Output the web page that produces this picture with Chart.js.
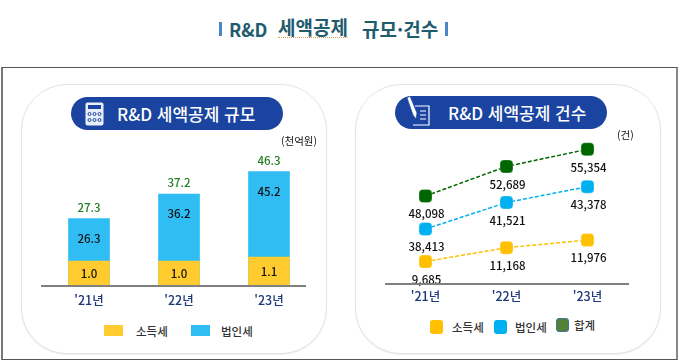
<!DOCTYPE html>
<html lang="ko">
<head>
<meta charset="utf-8">
<script src="https://cdn.jsdelivr.net/npm/chart.js@4"></script>
<style>
  html, body { margin: 0; padding: 0; background: #fff; }
  body { position: relative; width: 680px; height: 362px; overflow: hidden; font-family: "Noto Sans CJK KR", "Noto Sans", sans-serif; }
  .abs { position: absolute; white-space: nowrap; }
  .frame { left: 1px; top: 67px; width: 677px; height: 293px; box-sizing: border-box; border: 1px solid #555; border-left: 2px solid #777; border-right: 2px solid #888; }
  .card { top: 84px; width: 306px; height: 270px; box-sizing: border-box; border: 1px solid #e4e4e4; border-radius: 46px; background: #fff; box-shadow: 0 1px 1px #eee; }
  .pill { height: 33px; width: 212px; border-radius: 17px; background: #1a44a0; }
  .pill-text { color: #fff; font-size: 17px; line-height: 33px; font-weight: 500; }
  .title { font-size: 19px; font-weight: 700; color: #1f5c6e; line-height: 24px; top: 17px; }
  .tick { width: 3px; height: 14px; top: 22px; background: #4a86c8; }
  .axis { height: 2px; background: #808080; }
  .sw { border-radius: 0; }
  .leg { font-size: 11.5px; color: #333; line-height: 16px; font-weight: 500; }
  .unit { font-size: 10.5px; color: #111; line-height: 14px; }
  canvas { position: absolute; }
</style>
</head>
<body>
<div class="abs tick" style="left:219px"></div>
<div class="abs title" style="left:229px;font-size:18px">R&amp;D</div>
<div class="abs title" style="left:278px;border-bottom:1px dotted #e8a15a;line-height:20px;top:17px">세액공제</div>
<div class="abs title" style="left:362px">규모·건수</div>
<div class="abs tick" style="left:445px"></div>

<div class="abs frame"></div>
<div class="abs card" style="left:21px"></div>
<div class="abs card" style="left:355px"></div>

<div class="abs pill" style="left:71px;top:97px"></div>
<svg class="abs" style="left:85px;top:102px" width="19" height="24" viewBox="0 0 19 24">
  <rect x="0.5" y="0.5" width="18" height="23" rx="2" fill="#e8eef8"/>
  <rect x="3" y="3" width="13" height="4" fill="#1a44a0"/>
  <g fill="none" stroke="#1a44a0" stroke-width="1">
    <circle cx="4.5" cy="12" r="1.5"/><circle cx="9.5" cy="12" r="1.5"/><circle cx="14.5" cy="12" r="1.5"/>
    <circle cx="4.5" cy="18" r="1.5"/><circle cx="9.5" cy="18" r="1.5"/><circle cx="14.5" cy="18" r="1.5"/>
  </g>
</svg>
<div class="abs pill-text" style="left:117px;top:97px">R&amp;D 세액공제 규모</div>

<div class="abs pill" style="left:395px;top:96px"></div>
<svg class="abs" style="left:406px;top:96px" width="26" height="31" viewBox="0 0 26 31">
  <path d="M9 10 H23 V29 H7" fill="none" stroke="#fff" stroke-width="1.2"/>
  <path d="M14 15 H20 M14 19 H20 M14 23 H20" stroke="#fff" stroke-width="1.2"/>
  <path d="M1 2 L4 0 L11 17 L10 23 L7 19 Z" fill="#fff" stroke="#1a44a0" stroke-width="0.7"/>
</svg>
<div class="abs pill-text" style="left:448px;top:96px">R&amp;D 세액공제 건수</div>

<canvas id="amount-chart" width="306" height="190" style="left:21px;top:120px"></canvas>
<canvas id="count-chart" width="306" height="188" style="left:355px;top:120px"></canvas>

<div class="abs unit" style="left:281px;top:134px">(천억원)</div>
<div class="abs unit" style="left:617px;top:128px">(건)</div>

<div class="abs axis" style="left:41px;top:285px;width:265px"></div>
<div class="abs axis" style="left:385px;top:283px;width:244px"></div>

<div class="abs sw" style="left:104px;top:325px;width:19px;height:11px;background:#ffcb2f"></div>
<div class="abs leg" style="left:136px;top:323px">소득세</div>
<div class="abs sw" style="left:191px;top:325px;width:19px;height:11px;background:#2fbdf3"></div>
<div class="abs leg" style="left:221px;top:323px">법인세</div>

<div class="abs sw" style="left:430px;top:320px;width:13px;height:14px;border-radius:3px;background:#ffc000"></div>
<div class="abs leg" style="left:452px;top:319px">소득세</div>
<div class="abs sw" style="left:494px;top:320px;width:13px;height:14px;border-radius:3px;background:#00b0f0"></div>
<div class="abs leg" style="left:515px;top:319px">법인세</div>
<div class="abs sw" style="left:556px;top:318px;width:11px;height:12px;border-radius:3px;background:#548235;border:1px solid #41719c"></div>
<div class="abs leg" style="left:574px;top:317px">합계</div>

<script>
const categories = ["'21년", "'22년", "'23년"];

// 세액공제 규모 (천억원)
const incomeAmount = [1.0, 1.0, 1.1];
const corporateAmount = [26.3, 36.2, 45.2];
const totalAmount = [27.3, 37.2, 46.3];

// 세액공제 건수 (건)
const incomeCount = [9685, 11168, 11976];
const corporateCount = [38413, 41521, 43378];
const totalCount = [48098, 52689, 55354];

const FONT = '"Noto Sans CJK KR", "Noto Sans", sans-serif';
const TICK_COLOR = '#1f3a7a';

function fixedAxisHeight(scale) { scale.height = 24; }

// 막대 위 수치
const barLabels = {
  id: 'barLabels',
  afterDatasetsDraw(chart) {
    const ctx = chart.ctx;
    const blue = chart.getDatasetMeta(0).data;
    const yellow = chart.getDatasetMeta(1).data;
    const bottom = chart.chartArea.bottom;
    ctx.save();
    ctx.font = '500 11.5px ' + FONT;
    ctx.textAlign = 'center';
    ctx.textBaseline = 'middle';
    categories.forEach((c, i) => {
      ctx.fillStyle = '#1e7d1e';
      ctx.fillText(totalAmount[i].toFixed(1), blue[i].x, blue[i].y - 11);
      ctx.fillStyle = '#111';
      ctx.fillText(corporateAmount[i].toFixed(1), blue[i].x, blue[i].y + 20);
      ctx.fillText(incomeAmount[i].toFixed(1), yellow[i].x, (yellow[i].y + bottom) / 2);
    });
    ctx.restore();
  }
};

// 마커 아래 수치
const pointLabels = {
  id: 'pointLabels',
  afterDatasetsDraw(chart) {
    const ctx = chart.ctx;
    ctx.save();
    ctx.font = '500 11.5px ' + FONT;
    ctx.fillStyle = '#111';
    ctx.textAlign = 'center';
    ctx.textBaseline = 'middle';
    chart.data.datasets.forEach((ds, d) => {
      chart.getDatasetMeta(d).data.forEach((pt, i) => {
        ctx.fillText(ds.data[i].toLocaleString('en-US'), pt.x + 1, pt.y + 18);
      });
    });
    ctx.restore();
  }
};

const hiddenAxis = (min, max) => ({ display: false, min, max, grid: { display: false } });
const xAxis = (padding) => ({
  offset: true,
  grid: { display: false },
  border: { display: false },
  afterFit: fixedAxisHeight,
  ticks: { color: TICK_COLOR, font: { family: FONT, size: 12.5, weight: '500' }, padding, maxRotation: 0 }
});

new Chart(document.getElementById('amount-chart'), {
  type: 'bar',
  data: {
    labels: categories,
    datasets: [
      // 법인세 막대는 합계 높이까지 그리고 소득세 막대가 아래를 덮음
      { label: '법인세', data: totalAmount, backgroundColor: '#2fbdf3', yAxisID: 'yTotal', grouped: false, order: 2, barThickness: 41 },
      { label: '소득세', data: incomeAmount, backgroundColor: '#ffcb2f', yAxisID: 'yIncome', grouped: false, order: 1, barThickness: 41 }
    ]
  },
  options: {
    responsive: false,
    animation: false,
    events: [],
    layout: { padding: { left: 23, right: 13, top: 0, bottom: 0 } },
    plugins: { legend: { display: false }, tooltip: { enabled: false } },
    scales: {
      x: xAxis(-1),
      yTotal: hiddenAxis(0, 67.2),
      yIncome: hiddenAxis(0.375, 4.525)
    }
  },
  plugins: [barLabels]
});

function lineSeries(label, data, color, yAxisID) {
  return {
    label, data, yAxisID,
    borderColor: color,
    backgroundColor: color,
    borderWidth: 1.5,
    borderDash: [4, 2],
    tension: 0,
    pointStyle: 'rectRounded',
    pointRadius: 7.6,
    pointBorderColor: 'rgba(255,255,255,0.6)',
    pointBorderWidth: 0.5
  };
}

new Chart(document.getElementById('count-chart'), {
  type: 'line',
  data: {
    labels: categories,
    datasets: [
      lineSeries('소득세', incomeCount, '#ffc000', 'yIncome'),
      lineSeries('법인세', corporateCount, '#00b0f0', 'yCorporate'),
      lineSeries('합계', totalCount, '#006600', 'yTotal')
    ]
  },
  options: {
    responsive: false,
    animation: false,
    events: [],
    layout: { padding: { left: 30, right: 33, top: 0, bottom: 0 } },
    plugins: { legend: { display: false }, tooltip: { enabled: false } },
    scales: {
      x: xAxis(-3),
      yIncome: hiddenAxis(7299, 23898),
      yCorporate: hiddenAxis(31970, 50239),
      yTotal: hiddenAxis(34428, 58642)
    }
  },
  plugins: [pointLabels]
});
</script>
</body>
</html>
